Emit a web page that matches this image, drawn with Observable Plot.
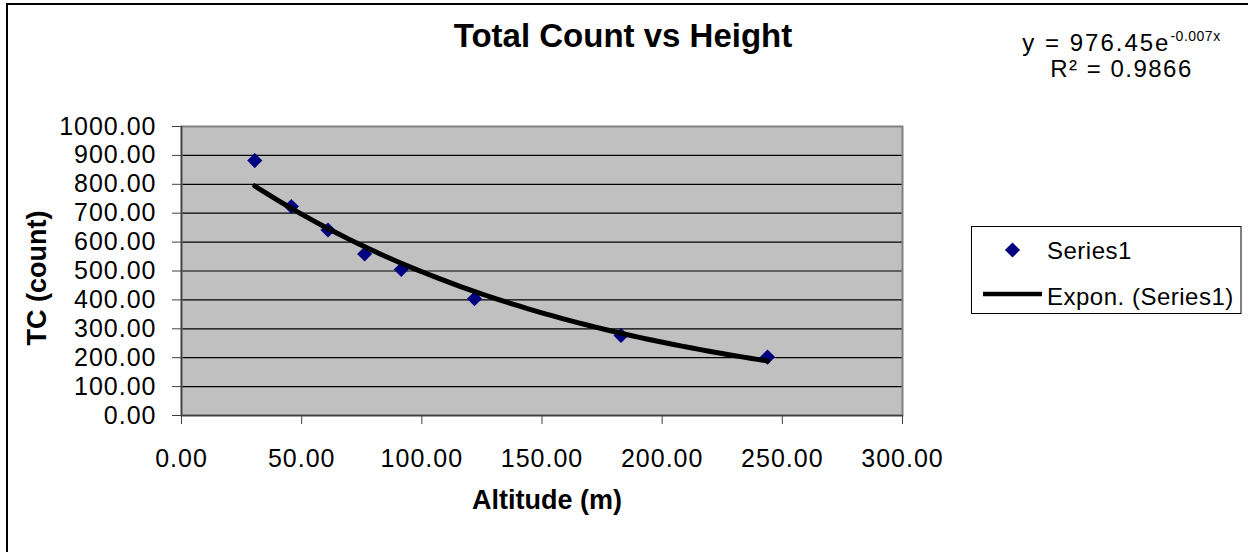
<!DOCTYPE html>
<html>
<head>
<meta charset="utf-8">
<script src="https://cdn.jsdelivr.net/npm/d3@7"></script>
<script src="https://cdn.jsdelivr.net/npm/@observablehq/plot@0.6"></script>
<style>
  html, body { margin: 0; padding: 0; background: #fff; }
  #chart svg { display: block; }
</style>
</head>
<body>
<div id="chart"></div>
<script>
// ---- data ----
const altitude   = [30.48, 45.72, 60.96, 76.2, 91.44, 121.92, 182.88, 243.84];
const totalCount = [882, 723, 642, 559, 505, 404, 277, 202];
const xTicks = [0, 50, 100, 150, 200, 250, 300];
const yTicks = [0, 100, 200, 300, 400, 500, 600, 700, 800, 900, 1000];
const titleText = "Total Count vs Height";
const xLabel = "Altitude (m)";
const yLabel = "TC (count)";
const seriesName = "Series1";
const trendName = "Expon. (Series1)";
const eqCoef = "976.45";
const eqExp = "-0.007x";
const rSquared = "0.9866";

const points = altitude.map((a, i) => ({x: a, y: totalCount[i]}));

// exponential least-squares trendline (fit of ln y on x, as the spreadsheet does)
const mx = d3.mean(points, d => d.x);
const my = d3.mean(points, d => Math.log(d.y));
const sxy = d3.sum(points, d => (d.x - mx) * (Math.log(d.y) - my));
const sxx = d3.sum(points, d => (d.x - mx) ** 2);
const b = sxy / sxx;
const a = Math.exp(my - b * mx);
const x0 = d3.min(altitude), x1 = d3.max(altitude);
const trend = d3.range(0, 61).map(i => {
  const x = x0 + (x1 - x0) * i / 60;
  return {x, y: a * Math.exp(b * x)};
});

const W = 1248, H = 552;
const fmt = d3.format(".2f");
const font = "'Liberation Sans', Arial, sans-serif";

const chart = Plot.plot({
  width: W,
  height: H,
  marginLeft: 181,
  marginRight: W - 902,
  marginTop: 126,
  marginBottom: H - 415,
  style: {fontFamily: font, fontSize: "25px", letterSpacing: "1px", color: "#000", background: "#fff", overflow: "visible"},
  x: {domain: [0, 300]},
  y: {domain: [0, 1000]},
  marks: [
    Plot.frame({fill: "#C0C0C0", stroke: null}),
    Plot.ruleY(yTicks.filter(v => v > 0), {stroke: "#000", strokeWidth: 1.2}),
    Plot.frame({stroke: "#808080", strokeWidth: 2}),
    Plot.ruleX([0], {stroke: "#404040", strokeWidth: 1.5}),
    Plot.ruleY([0], {stroke: "#404040", strokeWidth: 1.5}),
    Plot.axisY({ticks: yTicks, tickFormat: fmt, tickSize: 9, tickPadding: 16, label: null, stroke: "#404040"}),
    Plot.axisX({ticks: xTicks, tickFormat: fmt, tickSize: 9, tickPadding: 25, label: null, stroke: "#404040"}),
    Plot.dot(points, {x: "x", y: "y", symbol: "diamond2", r: 6.8, fill: "#000080", stroke: null}),
    Plot.line(trend, {x: "x", y: "y", stroke: "#000", strokeWidth: 5, curve: "linear"})
  ]
});

const svg = d3.select(chart);

// outer chart border (cropped at right and bottom)
svg.append("path").attr("d", `M7,${H} V4 H${W}`).attr("fill", "none").attr("stroke", "#000").attr("stroke-width", 2);

function txt(x, y, anchor, size, weight, spacing, s) {
  return svg.append("text").attr("x", x).attr("y", y).attr("text-anchor", anchor)
    .style("font-family", font).style("font-size", size + "px").style("font-weight", weight)
    .style("letter-spacing", spacing + "px").attr("fill", "#000").text(s);
}

// title
txt(623, 47, "middle", 33, "bold", 0, titleText);

// axis titles
txt(547, 509, "middle", 27, "bold", 0, xLabel);
txt(0, 0, "middle", 27, "bold", 0, yLabel).attr("transform", "translate(46,278) rotate(-90)");

// equation
const eq = txt(1121.5, 50.5, "middle", 24, "normal", 2, "");
eq.append("tspan").text(`y = ${eqCoef}e`);
eq.append("tspan").attr("dy", -10).style("font-size", "14px").style("letter-spacing", "0.5px").text(eqExp);
txt(1121.5, 76.5, "middle", 24, "normal", 1.5, `R² = ${rSquared}`);

// legend
svg.append("rect").attr("x", 971.5).attr("y", 226.5).attr("width", 269.5).attr("height", 87)
  .attr("fill", "#fff").attr("stroke", "#000").attr("stroke-width", 1);
svg.append("path").attr("transform", "translate(1012.5,250)")
  .attr("d", d3.symbol(d3.symbolDiamond2, Math.PI * 6.8 * 6.8)()).attr("fill", "#000080");
svg.append("line").attr("x1", 983).attr("x2", 1042).attr("y1", 294).attr("y2", 294)
  .attr("stroke", "#000").attr("stroke-width", 4.5);
txt(1047, 258.5, "start", 24, "normal", 0.5, seriesName);
txt(1047, 305, "start", 24, "normal", 0.5, trendName);

document.getElementById("chart").appendChild(chart);
</script>
</body>
</html>
